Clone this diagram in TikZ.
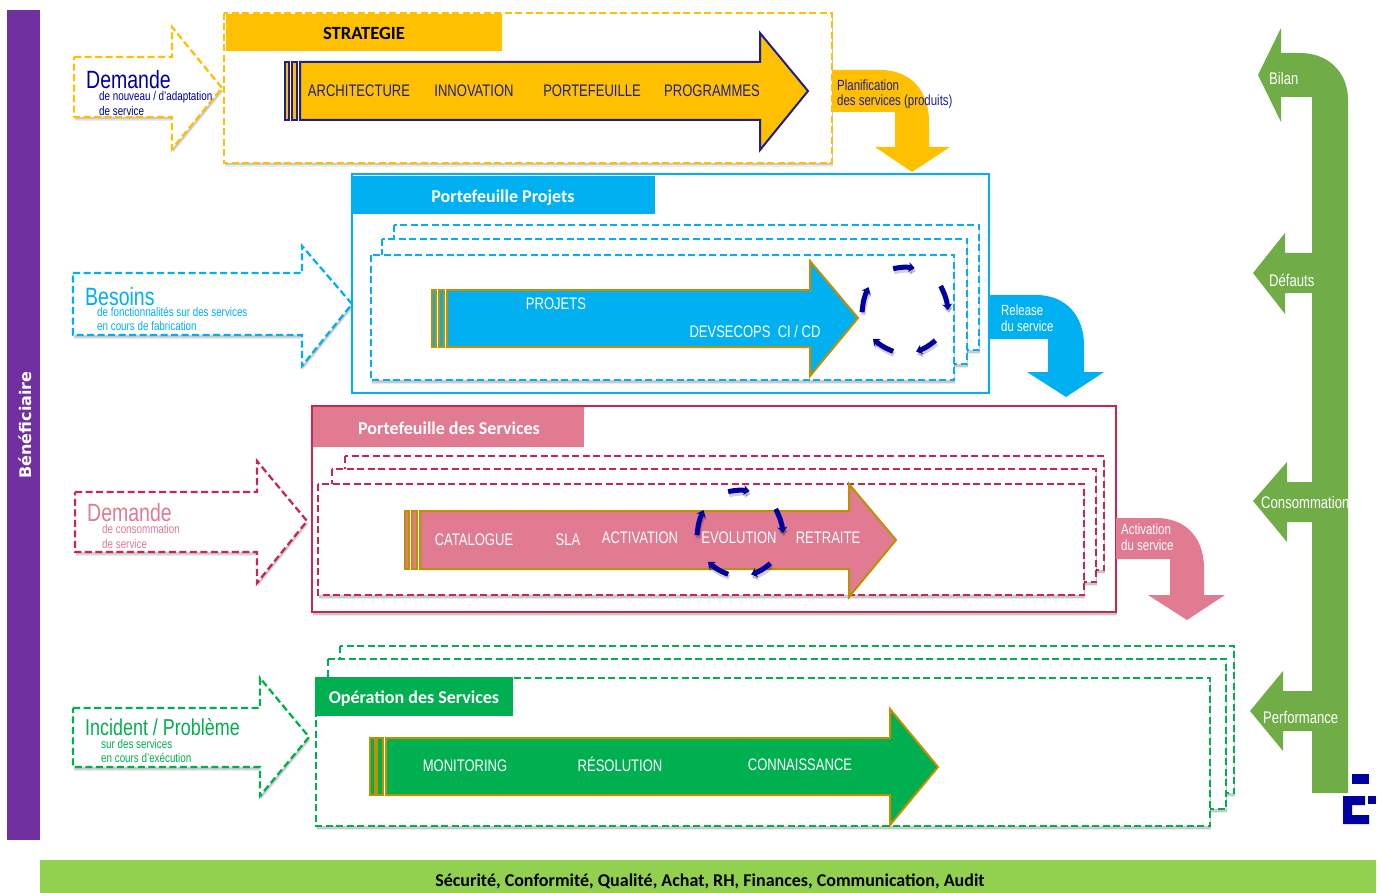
\documentclass[tikz,border=0pt]{standalone}
\usepackage{fontspec}
\setmainfont[FakeStretch=0.78]{Liberation Sans}
\newfontfamily\headfont{Carlito}
\newfontfamily\sidefont{DejaVu Sans}
\usetikzlibrary{arrows.meta,shadows}
\definecolor{jaune}{HTML}{FFC000}
\definecolor{bleu}{HTML}{00B0F0}
\definecolor{rose}{HTML}{E07B91}
\definecolor{rouge}{HTML}{C7284F}
\definecolor{vert}{HTML}{00B050}
\definecolor{olive}{HTML}{70AD47}
\definecolor{nuit}{HTML}{0000A0}
\definecolor{encre}{HTML}{1F1F90}
\definecolor{or}{HTML}{BF9000}
\definecolor{violet}{HTML}{7030A0}
\definecolor{prairie}{HTML}{92D050}
\tikzset{
  ombre/.style={
    drop shadow={shadow xshift=1pt,shadow yshift=-4pt,opacity=.08,fill=black},
    drop shadow={shadow xshift=1pt,shadow yshift=-2.5pt,opacity=.14,fill=black}},
  pile/.style={dashed,dash pattern=on 7pt off 3.5pt,line width=2.3pt,fill=white,ombre},
  fleche/.style={line width=2pt,line join=miter},
  titre/.style={font=\headfont\bfseries\fontsize{18}{18}\selectfont,text=white},
  etape/.style={font=\fontsize{16.7}{16.7}\selectfont,text=white},
  grand/.style={font=\fontsize{25}{25}\selectfont,anchor=west,inner sep=0pt},
  petit/.style={font=\fontsize{12.6}{12.6}\selectfont,anchor=west,inner sep=0pt},
  note/.style={font=\fontsize{14.7}{14.7}\selectfont,anchor=west,inner sep=0pt},
  cote/.style={font=\fontsize{16.8}{16.8}\selectfont,anchor=west,inner sep=0pt,text=white},
  tour/.style={-{Stealth[length=6pt,width=10pt]},line width=5pt,draw=nuit},
  tourombre/.style={-{Stealth[length=6pt,width=10pt]},line width=5pt,draw=black,opacity=.18},
}
\begin{document}
\begin{tikzpicture}[x=1pt,y=-1pt]
\useasboundingbox (0,0) rectangle (1383,893);

% bandeaux
\fill[violet] (7,10) rectangle (40,840);
\node[rotate=90,text=white,font=\sidefont\bfseries\fontsize{16}{16}\selectfont] (benef) at (25,425) {B\'en\'eficiaire};
\fill[prairie] (40,860) rectangle (1376,893);
\node[font=\headfont\bfseries\fontsize{18}{18}\selectfont] (transverse) at (710,881) {S\'ecurit\'e, Conformit\'e, Qualit\'e, Achat, RH, Finances, Communication, Audit};

% strategie
\draw[pile,draw=jaune] (74,57) -- (172,57) -- (172,27) -- (222,88) -- (172,149) -- (172,117) -- (74,117) -- cycle;
\draw[pile,draw=jaune] (224,13) rectangle (832,163);
\fill[jaune] (226,14) rectangle (502,51);
\node[font=\headfont\bfseries\fontsize{18.6}{18.6}\selectfont] (strategie) at (364,33) {STRATEGIE};
\draw[fleche,draw=encre,fill=jaune] (285,62) rectangle (289,120);
\draw[fleche,draw=encre,fill=jaune] (292,62) rectangle (297,120);
\draw[fleche,draw=encre,fill=jaune] (300,62) -- (760,62) -- (760,33) -- (808,91) -- (760,150) -- (760,120) -- (300,120) -- cycle;
\node[etape,text=encre] (archi) at (359,91) {ARCHITECTURE};
\node[etape,text=encre] (innov) at (474,91) {INNOVATION};
\node[etape,text=encre] (portef) at (592,91) {PORTEFEUILLE};
\node[etape,text=encre] (progr) at (712,91) {PROGRAMMES};
\node[grand,text=nuit] (demande1) at (86,80) {Demande};
\node[petit,text=nuit] (demande1a) at (99,97) {de nouveau / d'adaptation};
\node[petit,text=nuit] (demande1b) at (99,111) {de service};
\fill[jaune] (832,70) -- (880,70) .. controls (912,70) and (929,92) .. (929,122) -- (929,147) -- (950,147) -- (912,172) -- (875,147) -- (895,147) -- (895,112) -- (832,112) -- cycle;
\node[note,text=encre] (planif1) at (837,85) {Planification};
\node[note,text=encre] (planif2) at (837,102) {des services (produits)};

% projets
\draw[pile,draw=bleu] (73,273) -- (302,273) -- (302,246) -- (352,304) -- (302,366) -- (302,335) -- (73,335) -- cycle;
\draw[line width=2pt,draw=bleu,fill=white] (352,174) rectangle (989,393);
\fill[bleu] (352,176) rectangle (655,214);
\node[titre] (projets) at (503,198) {Portefeuille Projets};
\draw[pile,draw=bleu] (394,225) rectangle (979,350);
\draw[pile,draw=bleu] (382,239) rectangle (967,364);
\draw[pile,draw=bleu] (371,255) rectangle (954,380);
\draw[fleche,draw=or,fill=bleu] (432,290) rectangle (436,347);
\draw[fleche,draw=or,fill=bleu] (439,290) rectangle (444,347);
\draw[fleche,draw=or,fill=bleu] (447,290) -- (810,290) -- (810,261) -- (858,318) -- (810,376) -- (810,347) -- (447,347) -- cycle;
\node[etape] (proj) at (556,304) {PROJETS};
\node[etape] (devsec) at (755,332) {DEVSECOPS\ \ CI / CD};
\node[grand,text=bleu] (besoins) at (85,297) {Besoins};
\node[petit,text=bleu] (besoinsa) at (97,312) {de fonctionnalit\'es sur des services};
\node[petit,text=bleu] (besoinsb) at (97,326) {en cours de fabrication};
\begin{scope}[shift={(905,310)}]
\foreach \a/\b in {-106/-77,-34/0,45/75,106/138,177/212}{
  \draw[tourombre] ([shift={(1,3)}]\a:43) to[bend left=10] ([shift={(1,3)}]\b:43);
  \draw[tour] (\a:43) to[bend left=10] (\b:43);
}
\end{scope}
\fill[bleu] (989,295) -- (1036,295) .. controls (1066,295) and (1084,316) .. (1084,345) -- (1084,372) -- (1104,372) -- (1066,397) -- (1027,372) -- (1048,372) -- (1048,339) -- (989,339) -- cycle;
\node[note,text=white] (release1) at (1001,310) {Release};
\node[note,text=white] (release2) at (1001,326) {du service};

% services
\draw[pile,draw=rouge] (75,492) -- (257,492) -- (257,461) -- (307,521) -- (257,583) -- (257,552) -- (75,552) -- cycle;
\draw[line width=2pt,draw=rouge,fill=white,ombre] (312,406) rectangle (1116,612);
\fill[rose] (313,407) rectangle (584,447);
\node[titre] (services) at (449,428) {Portefeuille des Services};
\draw[pile,draw=rouge] (345,456) rectangle (1104,570);
\draw[pile,draw=rouge] (332,469) rectangle (1096,582);
\draw[pile,draw=rouge] (318,484) rectangle (1084,595);
\draw[fleche,draw=or,fill=rose] (405,511) rectangle (409,569);
\draw[fleche,draw=or,fill=rose] (412,511) rectangle (417,569);
\draw[fleche,draw=or,fill=rose] (420,511) -- (849,511) -- (849,484) -- (896,540) -- (849,597) -- (849,569) -- (420,569) -- cycle;
\node[etape] (catal) at (474,540) {CATALOGUE};
\node[etape] (sla) at (568,540) {SLA};
\node[etape] (activ) at (640,538) {ACTIVATION};
\node[etape] (evol) at (739,538) {EVOLUTION};
\node[etape] (retr) at (828,538) {RETRAITE};
\node[grand,text=rose] (demande2) at (87,513) {Demande};
\node[petit,text=rose] (demande2a) at (102,529) {de consommation};
\node[petit,text=rose] (demande2b) at (102,544) {de service};
\begin{scope}[shift={(740,533)}]
\foreach \a/\b in {-106/-77,-34/0,45/75,106/138,177/212}{
  \draw[tourombre] ([shift={(1,3)}]\a:43) to[bend left=10] ([shift={(1,3)}]\b:43);
  \draw[tour] (\a:43) to[bend left=10] (\b:43);
}
\end{scope}
\fill[rose] (1116,518) -- (1156,518) .. controls (1186,518) and (1204,538) .. (1204,568) -- (1204,595) -- (1225,595) -- (1187,620) -- (1148,595) -- (1170,595) -- (1170,559) -- (1116,559) -- cycle;
\node[note,text=white] (activ1) at (1121,529) {Activation};
\node[note,text=white] (activ2) at (1121,545) {du service};

% operations
\draw[pile,draw=vert] (73,708) -- (260,708) -- (260,678) -- (309,737) -- (260,796) -- (260,767) -- (73,767) -- cycle;
\draw[pile,draw=vert] (340,646) rectangle (1234,793);
\draw[pile,draw=vert] (328,659) rectangle (1226,809);
\draw[pile,draw=vert] (316,678) rectangle (1210,826);
\fill[vert] (315,677) rectangle (513,716);
\node[titre] (operations) at (414,699) {Op\'eration des Services};
\draw[fleche,draw=or,fill=vert] (370,738) rectangle (375,795);
\draw[fleche,draw=or,fill=vert] (377,738) rectangle (383,795);
\draw[fleche,draw=or,fill=vert] (386,738) -- (890,738) -- (890,709) -- (938,767) -- (890,825) -- (890,795) -- (386,795) -- cycle;
\node[etape] (monit) at (465,766) {MONITORING};
\node[etape] (resol) at (620,764) {R\'ESOLUTION};
\node[etape] (conn) at (800,765) {CONNAISSANCE};
\node[grand,font=\fontsize{23}{23}\selectfont,text=vert] (incident) at (85,727) {Incident / Probl\`eme};
\node[petit,text=vert] (incidenta) at (101,744) {sur des services};
\node[petit,text=vert] (incidentb) at (101,758) {en cours d'ex\'ecution};

% retour
\fill[olive] (1312,793) -- (1348,793) -- (1348,100) .. controls (1348,72) and (1328,53) .. (1300,53) -- (1281,53) -- (1281,28) -- (1258,75) -- (1281,122) -- (1281,97) -- (1312,97) -- cycle;
\fill[olive] (1312,253) -- (1285,253) -- (1285,233) -- (1253,273) -- (1285,314) -- (1285,293) -- (1312,293) -- cycle;
\fill[olive] (1312,482) -- (1287,482) -- (1287,462) -- (1253,501) -- (1287,542) -- (1287,522) -- (1312,522) -- cycle;
\fill[olive] (1312,691) -- (1283,691) -- (1283,671) -- (1250,711) -- (1283,751) -- (1283,731) -- (1312,731) -- cycle;
\node[cote] (bilan) at (1269,78) {Bilan};
\node[cote] (defauts) at (1269,280) {D\'efauts};
\node[cote] (conso) at (1261,502) {Consommation};
\node[cote] (perf) at (1263,717) {Performance};

% logo
\fill[nuit] (1352,774) rectangle (1369,784);
\fill[nuit] (1343,796) -- (1365,796) -- (1365,805) -- (1352,805) -- (1352,815) -- (1369,815) -- (1369,824) -- (1343,824) -- cycle;
\fill[nuit] (1368,796) rectangle (1376,804);
\end{tikzpicture}
\end{document}
